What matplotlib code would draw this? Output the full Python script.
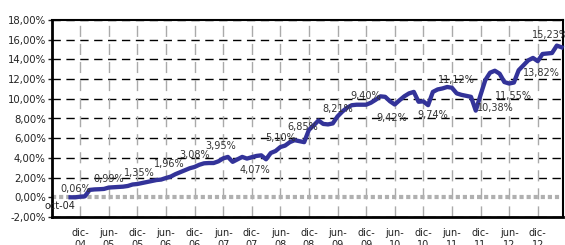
import numpy as np
import matplotlib.pyplot as plt
from matplotlib.ticker import FuncFormatter

# Rentabilidad acumulada mensual desde oct-04 (indice 0) hasta may-13
rentab = [0.00, 0.00, 0.06, 0.10, 0.75, 0.80, 0.82, 0.85, 0.99, 1.02,
          1.05, 1.08, 1.15, 1.30, 1.35, 1.45, 1.55, 1.65, 1.75, 1.80,
          1.96, 2.10, 2.35, 2.55, 2.75, 2.95, 3.08, 3.30, 3.45, 3.48,
          3.48, 3.65, 3.95, 4.10, 3.60, 3.85, 4.10, 3.93, 4.07, 4.20,
          4.26, 3.86, 4.50, 4.70, 5.10, 5.25, 5.60, 5.80, 5.70, 5.60,
          6.85, 7.30, 7.80, 7.45, 7.40, 7.50, 8.21, 8.70, 9.10, 9.35,
          9.40, 9.40, 9.40, 9.60, 9.90, 10.25, 10.20, 9.75, 9.42, 9.85,
          10.25, 10.55, 10.70, 9.70, 9.74, 9.35, 10.70, 10.95, 11.05, 11.20,
          11.12, 10.55, 10.40, 10.30, 10.20, 8.80, 10.38, 11.90, 12.65, 12.85,
          12.55, 11.70, 11.55, 11.65, 12.90, 13.40, 13.90, 14.15, 13.82, 14.55,
          14.60, 14.65, 15.40, 15.23]

# Etiquetas del eje X (cada 6 meses, empezando en dic-04)
tick_meses = list(range(2, 99, 6))
tick_labels = ["dic-\n04", "jun-\n05", "dic-\n05", "jun-\n06", "dic-\n06",
               "jun-\n07", "dic-\n07", "jun-\n08", "dic-\n08", "jun-\n09",
               "dic-\n09", "jun-\n10", "dic-\n10", "jun-\n11", "dic-\n11",
               "jun-\n12", "dic-\n12"]

# Etiquetas de datos: mes y texto
etiq_meses = [2, 8, 14, 20, 26, 32, 38, 44, 50, 56, 62, 68, 74, 80, 86, 92, 98, 103]
etiq_textos = ["0,06%", "0,99%", "1,35%", "1,96%", "3,08%", "3,95%", "4,07%",
               "5,10%", "6,85%", "8,21%", "9,40%", "9,42%", "9,74%", "11,12%",
               "10,38%", "11,55%", "13,82%", "15,23%"]
# desplazamiento de cada etiqueta en pixeles (dx, dy)
etiq_offset = [(-4, 8), (0, 9), (2, 11), (3, 14), (0, 12), (-2, 12), (3, -13),
               (0, 9), (-6, 3), (0, 7), (0, 9), (-3, -13), (9, -14), (4, 8),
               (15, -13), (4, -12), (4, -12), (-11, 12)]

x = np.arange(len(rentab))
y = np.array(rentab)

fig = plt.figure(figsize=(5.65, 2.45), dpi=100)
ax = fig.add_axes([52 / 565, 1 - 217 / 245, 511 / 565, 197 / 245])

# Rejilla
for v in range(-2, 19, 2):
    if v != 0:
        ax.axhline(v, color='black', lw=1.0, linestyle=(0, (6, 4)), zorder=1)
for t in tick_meses:
    ax.axvline(t, color='#aaaaaa', lw=1.0, linestyle=(0, (8, 5)), zorder=1)
ax.axhline(0, color='#b0b0b0', lw=3, linestyle=(0, (1, 0.7)), zorder=1)

# Serie
ax.plot(x, y, color='#333399', lw=3.1, solid_joinstyle='round', zorder=3, clip_on=False)

for m, txt, off in zip(etiq_meses, etiq_textos, etiq_offset):
    ax.annotate(txt, (m, y[m]), xytext=off, textcoords='offset pixels',
                ha='center', va='center', fontsize=7, color='#333333', zorder=4)

ax.annotate("oct-04", (0, 0), xytext=(-11, -9), textcoords='offset pixels',
            ha='center', va='center', fontsize=7, color='#222222')

ax.set_xlim(-3.9, 103.3)
ax.set_ylim(-2, 18)
ax.set_yticks(range(-2, 19, 2))
ax.yaxis.set_major_formatter(FuncFormatter(lambda v, p: ("%.2f%%" % v).replace(".", ",")))
ax.set_xticks(tick_meses)
ax.set_xticklabels(tick_labels)
ax.tick_params(axis='x', length=0, pad=8, labelsize=7, colors='#222222')
ax.tick_params(axis='y', length=3, width=1, pad=1.5, labelsize=7.3, colors='#222222')

for s in ['left', 'bottom']:
    ax.spines[s].set_linewidth(2)
for s in ['top', 'right']:
    ax.spines[s].set_linewidth(1.5)

fig.savefig("out.png", dpi=100)
